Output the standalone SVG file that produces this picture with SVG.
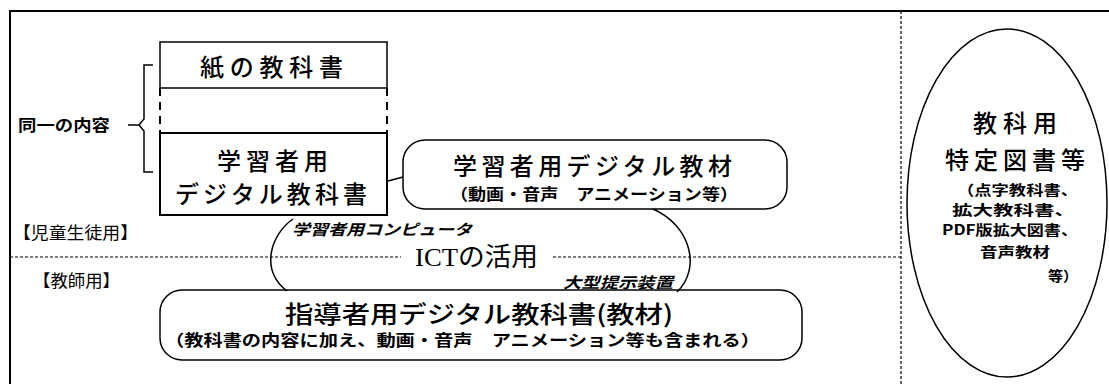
<svg xmlns="http://www.w3.org/2000/svg" width="1109" height="384" viewBox="0 0 1109 384">
<style>
text{font-family:"Noto Sans CJK JP","Noto Sans",sans-serif;fill:#000}
.big{font-size:24px;font-weight:500}
.small{font-size:16px;font-weight:bold}
.tiny{font-size:14px;font-weight:bold}
.it{font-size:15px;font-style:italic;font-weight:bold}
.lab{font-size:17px}
.ser{font-family:"Liberation Serif","Noto Sans CJK JP",serif;font-size:26px}
.ln{fill:none;stroke:#000;stroke-width:1.5}
.thick{fill:none;stroke:#000;stroke-width:2}
.dash{fill:none;stroke:#000;stroke-width:1.2;stroke-dasharray:3 2}
</style>
<rect width="1109" height="384" fill="#fff"/>
<g id="frame">
<path class="thick" d="M10,384 V11 H1109"/>
<line class="dash" x1="901" y1="11" x2="901" y2="384"/>
<line class="dash" x1="10" y1="257" x2="401" y2="257"/>
<line class="dash" x1="553" y1="257" x2="901" y2="257"/>
</g>
<g id="label-same">
<text class="small" x="18" y="131" textLength="92" lengthAdjust="spacingAndGlyphs">同一の内容</text>
<path class="ln" d="M128,125 H139 M153,65 H144 V119 L139,125 L144,131 V172 H153"/>
</g>
<g id="paper-textbook">
<path class="ln" d="M160,88 V42 H387 V88 M160,88 H387"/>
<path class="thick" d="M160,88 V133 M387,88 V133" stroke-dasharray="8 6"/>
<text class="big" x="200" y="76" textLength="143" lengthAdjust="spacing">紙の教科書</text>
</g>
<g id="digital-textbook">
<rect class="thick" x="160" y="133" width="227" height="82"/>
<text class="big" x="217" y="170" textLength="111" lengthAdjust="spacing">学習者用</text>
<text class="big" x="175" y="203" textLength="192" lengthAdjust="spacing">デジタル教科書</text>
</g>
<g id="learner-materials">
<rect class="ln" x="403" y="140" width="384" height="69" rx="22"/>
<text class="big" x="453" y="175" textLength="279" lengthAdjust="spacing">学習者用デジタル教材</text>
<text class="small" x="450" y="200" textLength="288" lengthAdjust="spacingAndGlyphs">（動画・音声　アニメーション等）</text>
</g>
<g id="ict">
<text class="ser" x="415" y="266" textLength="123" lengthAdjust="spacingAndGlyphs">ICTの活用</text>
<text class="it" x="292" y="235" textLength="180" lengthAdjust="spacingAndGlyphs">学習者用コンピュータ</text>
<text class="it" x="563" y="288" textLength="110" lengthAdjust="spacingAndGlyphs">大型提示装置</text>
</g>
<g id="section-labels">
<text class="lab" x="13" y="239" textLength="125" lengthAdjust="spacingAndGlyphs">【児童生徒用】</text>
<text class="lab" x="33" y="287" textLength="87" lengthAdjust="spacingAndGlyphs">【教師用】</text>
</g>
<g id="teacher-textbook">
<rect class="ln" x="160" y="290" width="642" height="70" rx="22"/>
<text class="big" font-size="26" x="285" y="323" textLength="388" lengthAdjust="spacingAndGlyphs">指導者用デジタル教科書(教材)</text>
<text class="small" x="165" y="346" textLength="595" lengthAdjust="spacingAndGlyphs">（教科書の内容に加え、動画・音声　アニメーション等も含まれる）</text>
</g>
<g id="special-books">
<ellipse class="ln" cx="1007" cy="203" rx="100" ry="174"/>
<text class="big" x="973" y="132" textLength="84" lengthAdjust="spacing">教科用</text>
<text class="big" x="945" y="169" textLength="140" lengthAdjust="spacing">特定図書等</text>
<text class="tiny" x="957" y="195" textLength="121" lengthAdjust="spacingAndGlyphs">（点字教科書、</text>
<text class="tiny" x="952" y="215" textLength="123" lengthAdjust="spacingAndGlyphs">拡大教科書、</text>
<text class="tiny" x="942" y="235" textLength="136" lengthAdjust="spacingAndGlyphs">PDF版拡大図書、</text>
<text class="tiny" x="980" y="257" textLength="70" lengthAdjust="spacingAndGlyphs">音声教材</text>
<text class="tiny" x="1048" y="281" textLength="30" lengthAdjust="spacingAndGlyphs">等）</text>
</g>
<g id="connectors">
<path class="ln" d="M388,181 L403,177"/>
<path class="ln" d="M293,219 C270,235 260,270 287,291"/>
<path class="ln" d="M653,209 C690,225 702,268 677,292"/>
</g>
</svg>
